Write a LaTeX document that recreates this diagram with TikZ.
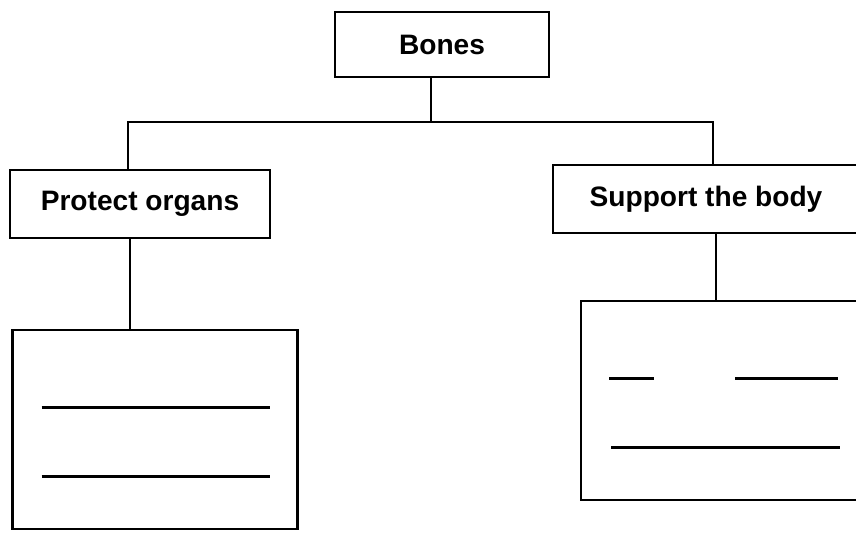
\documentclass[tikz,border=0pt]{standalone}
\usepackage{fontspec}
\setmainfont{Liberation Sans}
\usetikzlibrary{positioning}

\begin{document}
\begin{tikzpicture}[%
    line width=1.6pt,
    labelbox/.style={%
      rectangle,
      draw,
      inner sep=0pt,
      outer sep=0pt,
      minimum height=1.36cm,
      font=\fontsize{16}{18}\selectfont\bfseries
    },
    blankbox/.style={%
      rectangle,
      draw,
      inner sep=0pt,
      outer sep=0pt,
      minimum width=5.7cm,
      minimum height=3.98cm
    }
  ]
    \path[use as bounding box, clip] (0,0) rectangle (17.12,-10.66);

    \node[labelbox, minimum width=4.28cm, minimum height=1.3cm] (bones) at (8.84,-0.89) {Bones};
    \node[labelbox, minimum width=5.2cm] (protect) [node distance=1.86cm and 1.3cm, below left=of bones] {Protect organs};
    \node[labelbox, minimum width=6.12cm] (support) [node distance=1.76cm and 0.08cm, below right=of bones] {Support the body};
    \node[blankbox] (leftbox) [node distance=1.84cm, below=of protect, xshift=0.3cm] {};
    \node[blankbox] (rightbox) [node distance=1.36cm, below=of support, xshift=0.35cm] {};

    % tree lines
    \coordinate (stem) at ([xshift=-0.22cm]bones.south);
    \coordinate (fork) at ([yshift=-0.9cm]stem);
    \coordinate (tl) at ([xshift=-0.24cm]protect.north);
    \coordinate (tr) at ([xshift=0.14cm]support.north);
    \draw (stem) -- (fork);
    \draw (tl) -- (tl |- fork) -- (tr |- fork) -- (tr);
    \coordinate (pl) at ([xshift=-0.2cm]protect.south);
    \coordinate (pr) at ([xshift=0.2cm]support.south);
    \draw (pl) -- (pl |- leftbox.north);
    \draw (pr) -- (pr |- rightbox.north);

    % blank lines to fill in
    \foreach \y in {0.44,-0.94}
      \draw ([xshift=0.58cm,yshift=\y cm]leftbox.west) -- ++(4.56,0);
    \draw ([xshift=0.56cm,yshift=0.44cm]rightbox.west) -- ++(0.9,0);
    \draw ([xshift=3.08cm,yshift=0.44cm]rightbox.west) -- ++(2.06,0);
    \draw ([xshift=0.6cm,yshift=-0.94cm]rightbox.west) -- ++(4.58,0);
  \end{tikzpicture}
\end{document}
